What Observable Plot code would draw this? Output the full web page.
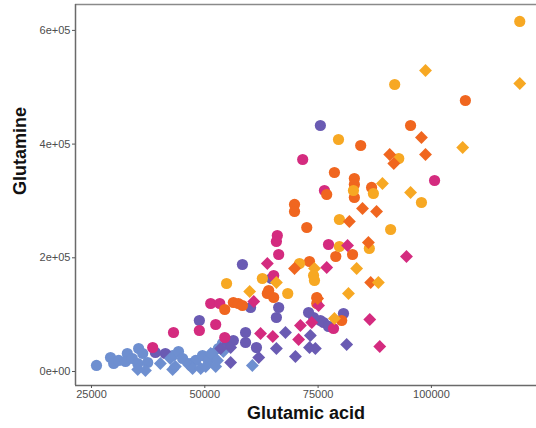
<!DOCTYPE html>
<html>
<head>
<meta charset="utf-8">
<script src="https://cdn.jsdelivr.net/npm/d3@7"></script>
<script src="https://cdn.jsdelivr.net/npm/@observablehq/plot@0.6"></script>
<style>
  html, body { margin: 0; padding: 0; background: #fff; }
  #chart svg { display: block; }
</style>
</head>
<body>
<div id="chart"></div>
<script>
// [Glutamic acid, Glutamine] pairs, per colour group and shape
const blueCircles = [
  [26100,10600],[29200,24600],[29900,14100],[31000,19400],[32900,31700],[32500,17600],
  [34000,22900],[35200,14100],[35400,40500],[36300,31700],[37400,15800],[42900,28100],
  [44200,35200],[45100,22900],[46800,14100],[48000,19400],[49500,28100],[50800,19400],
  [51700,31700],[53000,40500],[53900,49300]
];
const blueDiamonds = [
  [35200,3500],[36900,1800],[40200,14100],[42400,22900],[42900,3500],[43500,8800],
  [46400,12300],[47300,5300],[49100,5300],[50200,8800],[52400,8800],[51300,31700],
  [52800,19400],[54100,35200],[60500,10600]
];
const purpleCircles = [
  [39100,33400],[41300,31700],[48800,89700],[55000,49300],[56300,54500],[59000,68600],
  [59000,51000],[61400,42200],[58300,188200],[60100,112600],[66300,112600],[65800,95000],
  [72900,103800],[74000,95000],[75500,89700],[76200,86200],[77300,79200],[80600,102000],
  [75500,432700],[64700,163600]
];
const purpleDiamonds = [
  [55700,42200],[55700,15800],[61900,24600],[65800,40500],[67800,68600],[70000,26400],
  [73100,42200],[74400,40500],[73300,63300],[81300,47500],[53500,40500]
];
const magentaCircles = [
  [38500,42200],[43100,68600],[48800,72100],[52400,82700],[54400,59800],[51300,119600],
  [53300,119600],[66000,239200],[65800,228700],[66300,205800],[71600,372900],[76400,318400],
  [77300,223400],[100700,336000],[65200,168900],[78400,75600]
];
const magentaDiamonds = [
  [60800,123100],[63800,190000],[62300,66800],[65000,61600],[71100,80900],[70700,56300],
  [73600,86200],[75100,116100],[76900,182900],[81500,221600],[86400,91500],[88600,44000],
  [94500,202300]
];
const orangeCircles = [
  [107500,476700],[95400,432700],[84400,397500],[78600,350000],[83000,339500],[83000,328900],
  [83000,306100],[86800,323700],[76900,311300],[69800,293800],[69800,281400],[72500,253300],
  [78900,202300],[82600,205800],[73100,193500],[74700,130200],[74700,119600],[80200,89700],
  [56300,121400],[57400,119600],[58300,116100],[54400,109100],[63800,137200],[65200,130200],
  [64100,142500]
];
const orangeDiamonds = [
  [97800,411600],[90800,381700],[91700,365900],[98700,381700],[84800,286700],[87900,281400],
  [81900,263900],[86100,226900],[69800,181200],[86600,156600],[74900,128400]
];
const yellowCircles = [
  [119500,615700],[91900,504800],[79500,408100],[92800,374700],[87200,313100],[82800,318400],
  [97800,297300],[79700,267400],[91000,249800],[79700,219900],[70900,190000],[68300,137200],
  [54800,154800],[62700,163600],[74000,168900],[74200,160100],[86300,216400]
];
const yellowDiamonds = [
  [98700,529500],[119500,506600],[106900,394000],[89200,330700],[95400,314900],[83500,181200],
  [88300,156600],[81700,137200],[65800,156600],[59900,140700],[78600,93200],[74200,181200]
];

const groups = ["G1", "G2", "G3", "G4", "G5"];
const groupColors = ["#6E8FD0", "#6A5BB3", "#D42B7F", "#F0661F", "#F7A823"];
const xTicks = [25000, 50000, 75000, 100000];
const yTicks = [0, 200000, 400000, 600000];
const xDomain = [21470, 123190];
const yDomain = [-24626, 645553];

const series = [
  ["G1", "circle", blueCircles], ["G1", "diamond2", blueDiamonds],
  ["G2", "circle", purpleCircles], ["G2", "diamond2", purpleDiamonds],
  ["G3", "circle", magentaCircles], ["G3", "diamond2", magentaDiamonds],
  ["G4", "circle", orangeCircles], ["G4", "diamond2", orangeDiamonds],
  ["G5", "circle", yellowCircles], ["G5", "diamond2", yellowDiamonds]
];
const rows = series.flatMap(([g, s, pts]) => pts.map(([x, y]) => ({x, y, group: g, shape: s})));

function sci(d) {
  if (d === 0) return "0e+00";
  const e = Math.floor(Math.log10(Math.abs(d)));
  const m = Math.round(d / Math.pow(10, e));
  return m + "e+" + String(e).padStart(2, "0");
}

const dotOpts = (shape, r) => ({
  filter: d => d.shape === shape, x: "x", y: "y",
  fill: {value: d => d.group, scale: "color"}, symbol: "shape", r
});

const chart = Plot.plot({
  width: 536,
  height: 428,
  marginLeft: 75,
  marginRight: 0,
  marginTop: 4,
  marginBottom: 43,
  style: {fontFamily: "Liberation Sans, Arial, sans-serif", background: "#fff"},
  x: {domain: xDomain, ticks: xTicks, tickFormat: d => String(d)},
  y: {domain: yDomain, ticks: yTicks, tickFormat: sci},
  color: {type: "ordinal", domain: groups, range: groupColors},
  symbol: {domain: ["circle", "diamond2"], range: ["circle", "diamond2"]},
  marks: [
    Plot.ruleY([yDomain[1]], {stroke: "#8a8a8a", strokeWidth: 1.5}),
    Plot.ruleX([xDomain[0]], {stroke: "#6a6a6a", strokeWidth: 1.5}),
    Plot.ruleY([yDomain[0]], {stroke: "#6a6a6a", strokeWidth: 1.5}),
    Plot.axisX({ticks: xTicks, tickFormat: d => String(d), tickSize: 3, tickPadding: 2,
      fontSize: 11, color: "#4d4d4d", stroke: "#555", label: null}),
    Plot.axisY({ticks: yTicks, tickFormat: sci, tickSize: 3, tickPadding: 2,
      fontSize: 11, color: "#4d4d4d", stroke: "#555", label: null}),
    Plot.dot(rows, dotOpts("circle", 5.6)),
    Plot.dot(rows, dotOpts("diamond2", 5.8)),
    Plot.text(["Glutamic acid"], {frameAnchor: "bottom", dy: 33, fontSize: 18, fontWeight: "bold", fill: "#111"}),
    Plot.text(["Glutamine"], {frameAnchor: "left", dx: -55, rotate: -90, fontSize: 18, fontWeight: "bold", fill: "#111"})
  ]
});
document.getElementById("chart").appendChild(chart);
</script>
</body>
</html>
